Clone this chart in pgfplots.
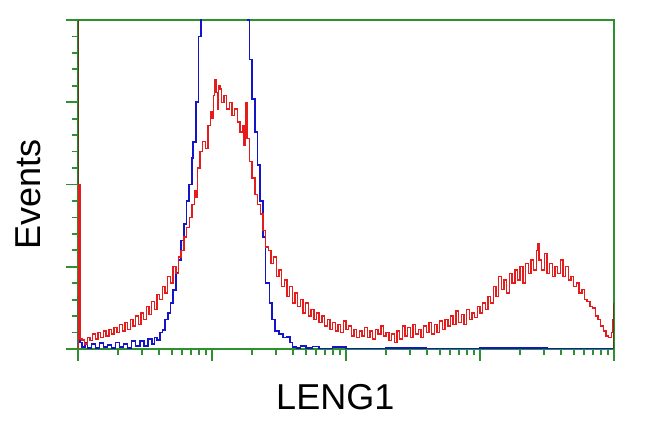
\documentclass[border=0pt]{standalone}
\usepackage{fontspec}
\setmainfont{Liberation Sans}
\usepackage{pgfplots}
\pgfplotsset{compat=1.18}
\definecolor{frameg}{RGB}{45,145,45}
\definecolor{hred}{RGB}{228,28,28}
\definecolor{hblue}{RGB}{20,20,200}
\definecolor{edgeb}{RGB}{90,60,25}
\begin{document}
\begin{tikzpicture}
\useasboundingbox (-58.5pt,-62.25pt) rectangle (429pt,261.75pt);
\begin{axis}[
  at={(0,0)}, anchor=south west,
  scale only axis, width=402pt, height=246.75pt,
  xmin=0, xmax=4, ymin=0, ymax=100,
  axis line style={frameg, line width=1.4pt},
  axis on top=false,
  tick style={frameg, line width=1.3pt},
  tick align=outside,
  xtick pos=bottom, ytick pos=left,
  major tick length=9pt, minor tick length=4.5pt,
  xtick={0,1,2,3,4},
  minor xtick={0.30103,0.47712,0.60206,0.69897,0.77815,0.84510,0.90309,0.95424,
    1.30103,1.47712,1.60206,1.69897,1.77815,1.84510,1.90309,1.95424,
    2.30103,2.47712,2.60206,2.69897,2.77815,2.84510,2.90309,2.95424,
    3.30103,3.47712,3.60206,3.69897,3.77815,3.84510,3.90309,3.95424},
  ytick={0,25,50,75,100}, minor y tick num=4,
  xticklabels={}, yticklabels={},
  xlabel={LENG1}, ylabel={Events},
  label style={font=\fontsize{27}{30}\selectfont, text=black},
  xlabel style={at={(axis description cs:0.48,-0.146)}, anchor=center},
  ylabel style={at={(axis description cs:-0.0933,0.47)}, anchor=center},
  clip mode=individual,
]
\addplot[hblue, line width=1.3pt, const plot] coordinates {
(0,0)(0,16)(0.01,16)(0.015,2)(0.03,0.5)(0.05,2)(0.07,0.3)(0.10,1.5)(0.13,0.3)(0.16,1.8)
(0.19,0.5)(0.22,1.2)(0.25,0.3)(0.28,2)(0.31,0.5)(0.34,1.5)(0.37,0.4)(0.40,2.5)(0.43,1)
(0.46,2.5)(0.49,1)(0.52,3)(0.55,1.5)(0.57,3.5)(0.59,2.7)(0.61,5)(0.63,5.8)(0.65,9)
(0.67,11)(0.69,14)(0.71,18)(0.73,23)(0.75,27)(0.77,33)(0.79,38)(0.81,45)(0.83,50)
(0.85,58)(0.86,63)(0.88,75)(0.90,95)(0.92,110)(0.95,120)(1.0,125)(1.1,128)(1.2,118)
(1.27,100)(1.28,88)(1.30,76)(1.32,66)(1.34,56)(1.36,45)(1.38,34)(1.40,20)(1.43,14)
(1.45,9)(1.47,5.5)(1.50,4.5)(1.53,3.5)(1.56,3.6)(1.58,2)(1.60,0.6)(1.63,0.2)(1.66,1)
(1.70,0.2)(1.75,0.8)(1.80,0.1)(1.9,0.5)(2.0,0.1)(2.3,0.3)(2.6,0.1)(3.0,0.2)(3.5,0.1)(4.0,0.2)
};
\addplot[hred, line width=1.05pt, const plot] coordinates {
(0,0)(0,50)(0.012,50)(0.015,3)(0.03,2.7)(0.05,1.5)(0.07,3.5)(0.09,2.5)(0.11,4.5)(0.13,3)
(0.15,5)(0.17,3.5)(0.19,5.5)(0.21,4)(0.23,6)(0.25,4.5)(0.27,6.5)(0.29,5)(0.31,7.5)(0.33,5.5)
(0.35,8)(0.37,6)(0.39,9)(0.41,7)(0.43,10)(0.45,7.5)(0.47,11)(0.49,9)(0.51,13)(0.53,10.5)
(0.55,14.5)(0.57,12)(0.59,16.5)(0.61,15)(0.63,19)(0.65,17)(0.67,22)(0.69,20)(0.71,25)
(0.73,23)(0.75,28)(0.77,30)(0.79,34)(0.81,37)(0.83,40)(0.85,44)(0.87,48)(0.88,46)(0.89,55)
(0.91,60)(0.93,63)(0.95,61)(0.97,68)(0.99,72)(1.0,70)(1.01,77)(1.02,82)(1.03,78)(1.04,73)
(1.05,80)(1.06,79)(1.07,75)(1.09,77)(1.11,73)(1.13,75)(1.15,71)(1.17,73)(1.19,69)(1.21,66)
(1.23,68)(1.24,62)(1.25,75)(1.26,64)(1.28,57)(1.30,52)(1.32,47)(1.34,44)(1.36,41)(1.38,36)
(1.40,31)(1.42,30)(1.44,26)(1.46,28)(1.48,22)(1.50,24)(1.52,19)(1.54,21)(1.56,16)(1.58,19)
(1.60,14)(1.62,17)(1.64,13)(1.66,15)(1.68,11)(1.70,14)(1.72,10)(1.74,12)(1.76,9)(1.78,11)
(1.80,8)(1.82,10)(1.84,7)(1.86,9)(1.88,6)(1.90,8)(1.92,5.5)(1.94,7.5)(1.96,5)(1.98,8.5)
(2.00,6)(2.02,7)(2.04,4)(2.06,6)(2.08,3.5)(2.10,5.5)(2.12,4)(2.14,6.5)(2.16,3.5)(2.18,5.5)
(2.20,3)(2.22,6)(2.24,4.5)(2.26,7)(2.28,4)(2.30,5)(2.32,2.5)(2.34,4.5)(2.36,2)(2.38,5.5)
(2.40,3)(2.42,7)(2.44,4)(2.46,6.5)(2.48,3.5)(2.50,7.5)(2.52,4.5)(2.54,6)(2.56,3.5)(2.58,7)
(2.60,5)(2.62,8)(2.64,4.5)(2.66,7.5)(2.68,5)(2.70,8.5)(2.72,6)(2.74,9)(2.76,7)(2.78,10)
(2.80,7.5)(2.82,11.5)(2.84,8)(2.86,10.5)(2.88,7.5)(2.90,12)(2.92,9)(2.94,11)(2.96,9.5)
(2.98,13)(3.00,11)(3.02,14)(3.04,12)(3.06,16)(3.08,14)(3.10,19)(3.12,16)(3.14,22)(3.16,18)
(3.18,21)(3.20,17)(3.22,23)(3.24,20)(3.26,24)(3.28,21)(3.30,25)(3.32,20)(3.34,26)(3.36,23)
(3.38,27)(3.40,24)(3.42,30)(3.43,32)(3.44,27)(3.46,24)(3.48,29)(3.50,23)(3.52,26)(3.54,22)
(3.56,25)(3.58,23)(3.60,27)(3.62,22)(3.64,25)(3.66,21)(3.68,22)(3.70,19)(3.72,20)(3.74,17)
(3.76,18)(3.78,15)(3.80,14.5)(3.82,13)(3.84,12.5)(3.86,10)(3.88,9)(3.90,7)(3.92,5.5)
(3.94,4)(3.96,3.5)(3.98,5)(3.99,9)(4.0,9)(4.0,14)(4.0,0)
};
\addplot[edgeb, line width=1.4pt] coordinates {(0,50)(0,100)};
\addplot[edgeb, line width=1.4pt] coordinates {(4,0)(4,14)};
\end{axis}
\end{tikzpicture}
\end{document}
